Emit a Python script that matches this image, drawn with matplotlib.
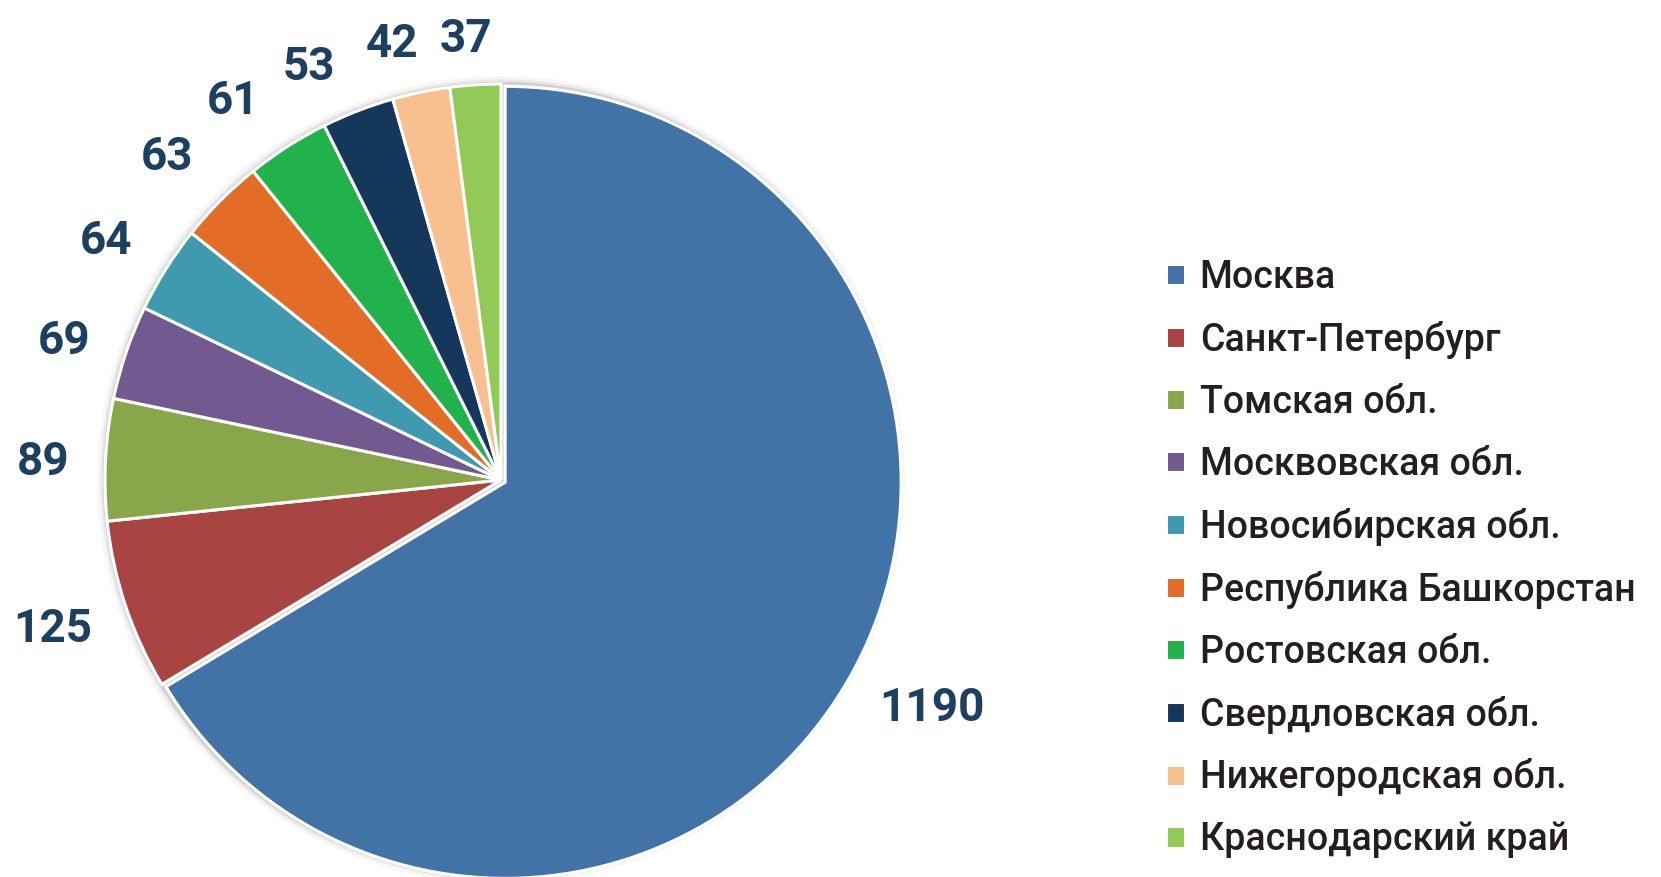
import numpy as np
import matplotlib.pyplot as plt
from matplotlib.patches import Circle

plt.rcParams['font.family'] = ['Roboto', 'DejaVu Sans']

regions = ['Москва', 'Санкт-Петербург', 'Томская обл.', 'Москвовская обл.',
           'Новосибирская обл.', 'Республика Башкорстан', 'Ростовская обл.',
           'Свердловская обл.', 'Нижегородская обл.', 'Краснодарский край']
counts = [1190, 125, 89, 69, 64, 63, 61, 53, 42, 37]
colors = ['#4173a7', '#a84543', '#8aa64b', '#725a91', '#3f9ab0',
          '#e36d27', '#22b24c', '#15375c', '#f8c08f', '#92c957']

W, H = 1661, 877
R = 396.0
cx, cy = 501, H - 480

fig = plt.figure(figsize=(W / 100, H / 100), dpi=100)
ax = fig.add_axes([0, 0, 1, 1])

# soft grey rim behind the pie
for r, a in [(1.02, 0.08), (1.012, 0.15), (1.006, 0.3)]:
    ax.add_patch(Circle((0, 0), r, color='#9a9a9a', alpha=a, lw=0, zorder=0))

explode = [0.012] + [0] * (len(counts) - 1)
wedges, _ = ax.pie(counts, colors=colors, startangle=90, counterclock=False,
                   explode=explode, radius=1.0,
                   wedgeprops=dict(edgecolor='white', linewidth=2.2))

ax.set_xlim(-cx / R, (W - cx) / R)
ax.set_ylim(-cy / R, (H - cy) / R)
ax.set_aspect('equal')
ax.axis('off')

# label placement: radial distance and small angular nudge (deg)
label_dist = [1.227, 1.19, 1.157, 1.16, 1.17, 1.18, 1.18, 1.16, 1.146, 1.128]
label_nudge = [2.0, -0.6, 0.2, 0.7, 0.6, 0.6, 2.4, 3.5, 2.3, 0.8]
for w, n, d, da in zip(wedges, counts, label_dist, label_nudge):
    ang = np.deg2rad((w.theta1 + w.theta2) / 2 + da)
    ax.text(d * np.cos(ang), d * np.sin(ang) - 0.01, str(n), ha='center', va='center',
            fontsize=33, fontweight='bold', color='#1d3f60')

fig.legend(wedges, regions, loc='upper left', bbox_to_anchor=(1166 / W, 1 - 259 / H),
           frameon=False, prop={'size': 27, 'weight': 'medium'},
           handlelength=0.5, handleheight=0.5,
           handletextpad=0.4, labelspacing=0.665, labelcolor='#231f20',
           borderpad=0, borderaxespad=0)

fig.savefig('out.png', dpi=100)
